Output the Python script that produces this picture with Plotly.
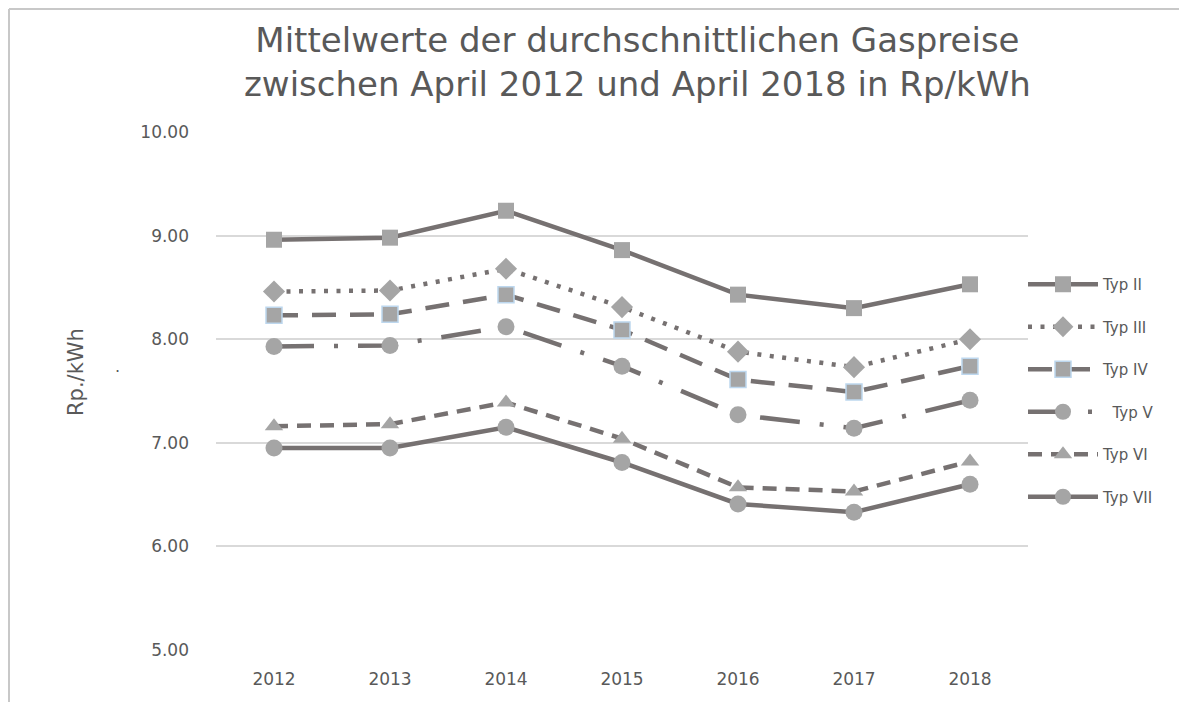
import plotly.graph_objects as go

years = ["2012", "2013", "2014", "2015", "2016", "2017", "2018"]
typ_ii = [8.96, 8.98, 9.24, 8.86, 8.43, 8.30, 8.53]
typ_iii = [8.46, 8.47, 8.68, 8.31, 7.88, 7.73, 8.00]
typ_iv = [8.23, 8.24, 8.43, 8.09, 7.61, 7.49, 7.74]
typ_v = [7.93, 7.94, 8.12, 7.74, 7.27, 7.14, 7.41]
typ_vi = [7.16, 7.18, 7.39, 7.04, 6.57, 6.53, 6.82]
typ_vii = [6.95, 6.95, 7.15, 6.81, 6.41, 6.33, 6.60]

names = ["Typ II", "Typ III", "Typ IV", "\u00a0\u00a0Typ V", "Typ VI", "Typ VII"]
series = [typ_ii, typ_iii, typ_iv, typ_v, typ_vi, typ_vii]
dashes = ["solid", "4px,8.5px", "24px,14px", "40px,20px,4px,20px", "14px,9px", "solid"]
symbols = ["square", "diamond", "square", "circle", "triangle-up", "circle"]
sizes = [16, 17, 16, 17, 16, 17]
outline_colors = ["#a5a5a5", "#a5a5a5", "#bdd7ee", "#a5a5a5", "#a5a5a5", "#a5a5a5"]
outline_widths = [0, 0, 1.5, 0, 0, 0]

LINE = "#767171"
MARK = "#a5a5a5"
TXT = "#595959"
FONT = "DejaVu Sans, Open Sans, sans-serif"

fig = go.Figure()
for i, (nm, vals) in enumerate(zip(names, series)):
    fig.add_trace(go.Scatter(
        x=years, y=vals, name=nm, mode="lines+markers",
        legendgroup=f"g{i}",
        line=dict(color=LINE, width=4.5, dash=dashes[i]),
        marker=dict(symbol=symbols[i], size=sizes[i], color=MARK,
                    line=dict(color=outline_colors[i], width=outline_widths[i])),
    ))

# page body has an 8px margin; work in window pixels
OFF = 8
W, H = 1187 - OFF, 702 - OFF
# plot area in window pixels: x 216..1028, y 132..650
PL, PR, PT, PB = 216, 1028, 132, 650
L, T = PL - OFF, PT - OFF
R, B = W - (PR - OFF), H - (PB - OFF)
pw, ph = PR - PL, PB - PT

def px_x(x):
    return (x - PL) / pw

def px_y(y):
    return (PB - y) / ph

fig.update_layout(
    width=W, height=H,
    margin=dict(l=L, r=R, t=T, b=B, autoexpand=False),
    paper_bgcolor="white", plot_bgcolor="white",
    font=dict(family=FONT, color=TXT, size=15),
    xaxis=dict(
        type="category", range=[-0.5, 6.5], showgrid=False, showline=False,
        zeroline=False, ticks="", tickfont=dict(size=17, color=TXT, family=FONT),
        ticklabelstandoff=17,
    ),
    yaxis=dict(
        range=[5, 10], dtick=1, tickformat=".2f", showgrid=True,
        gridcolor="#d9d9d9", gridwidth=2, zeroline=False, showline=False,
        ticks="", tickfont=dict(size=17, color=TXT, family=FONT), ticklabelstandoff=26,
    ),
    legend=dict(
        x=px_x(1023), xanchor="left", y=px_y(268), yanchor="top",
        font=dict(size=15, color=TXT, family=FONT), itemwidth=70, tracegroupgap=20,
        bgcolor="rgba(0,0,0,0)",
    ),
    showlegend=True,
)

fig.add_annotation(
    text="Mittelwerte der durchschnittlichen Gaspreise<br>zwischen April 2012 und April 2018 in Rp/kWh",
    xref="paper", yref="paper", x=px_x(637), y=px_y(62), xanchor="center", yanchor="middle",
    showarrow=False, font=dict(size=34, color=TXT, family=FONT),
)
fig.add_annotation(
    text="Rp./kWh", xref="paper", yref="paper", x=px_x(62), y=px_y(372),
    textangle=-90, showarrow=False, font=dict(size=21, color=TXT, family=FONT),
)
fig.add_annotation(
    text=".", xref="paper", yref="paper", x=px_x(113), y=px_y(366),
    showarrow=False, font=dict(size=16, color=TXT, family=FONT),
)

fig.add_shape(type="line", xref="paper", yref="paper",
              x0=px_x(OFF + 1), x1=px_x(OFF + 1), y0=px_y(OFF + 1), y1=px_y(702),
              line=dict(color="#c8c8c8", width=2))
fig.add_shape(type="line", xref="paper", yref="paper",
              x0=px_x(OFF + 1), x1=px_x(1187), y0=px_y(OFF + 1), y1=px_y(OFF + 1),
              line=dict(color="#c8c8c8", width=2))

fig.write_html("out.html")
